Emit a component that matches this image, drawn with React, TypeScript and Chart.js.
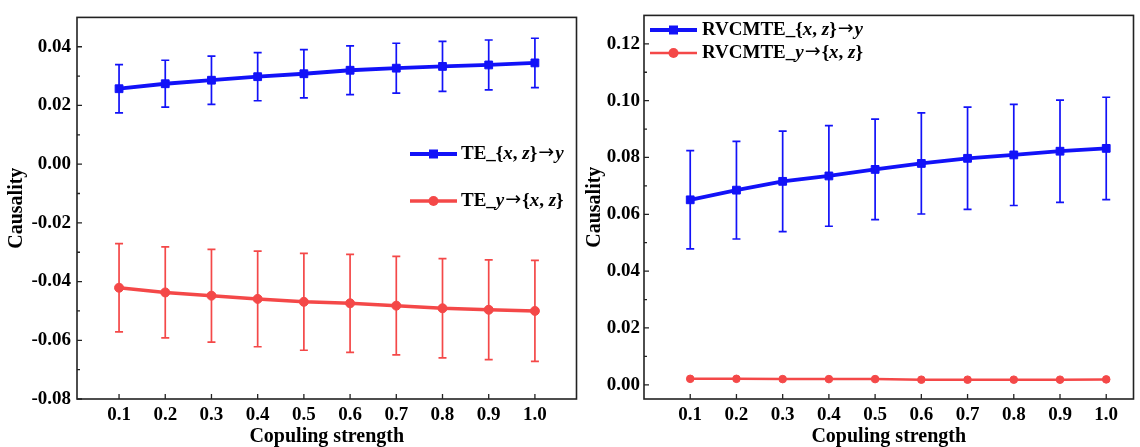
import React, { useEffect, useRef } from 'react';
import { Chart, registerables } from 'chart.js';

Chart.register(...registerables);

// ---------- data ----------
const coupling = [0.1, 0.2, 0.3, 0.4, 0.5, 0.6, 0.7, 0.8, 0.9, 1.0];
const xTickLabels = ['0.1', '0.2', '0.3', '0.4', '0.5', '0.6', '0.7', '0.8', '0.9', '1.0'];

// Left panel: TE
const teXZtoY = [0.0257, 0.0274, 0.0286, 0.0298, 0.0308, 0.032, 0.0327, 0.0333, 0.0338, 0.0345];
const teXZtoYErr = [0.0082, 0.008, 0.0082, 0.0082, 0.0082, 0.0083, 0.0085, 0.0085, 0.0085, 0.0084];
const teYtoXZ = [-0.0421, -0.0437, -0.0448, -0.0459, -0.0469, -0.0474, -0.0482, -0.0491, -0.0496, -0.05];
const teYtoXZErr = [0.015, 0.0155, 0.0158, 0.0163, 0.0165, 0.0167, 0.0168, 0.0169, 0.017, 0.0172];
const leftYTicks = [-0.08, -0.06, -0.04, -0.02, 0.0, 0.02, 0.04];

// Right panel: RVCMTE
const rvXZtoY = [0.0651, 0.0685, 0.0716, 0.0735, 0.0758, 0.0779, 0.0797, 0.0809, 0.0822, 0.0832];
const rvXZtoYErr = [0.0173, 0.0172, 0.0177, 0.0177, 0.0177, 0.0178, 0.018, 0.0178, 0.018, 0.018];
const rvYtoXZ = [0.0021, 0.0021, 0.002, 0.002, 0.002, 0.0018, 0.0018, 0.0018, 0.0018, 0.0019];
const rvYtoXZErr = [0, 0, 0, 0, 0, 0, 0, 0, 0, 0];
const rightYTicks = [0.0, 0.02, 0.04, 0.06, 0.08, 0.1, 0.12];

// legend labels; *...* marks italic parts
const leftLegendLabels = ['TE_{*x*, *z*}→*y*', 'TE_*y*→{*x*, *z*}'];
const rightLegendLabels = ['RVCMTE_{*x*, *z*}→*y*', 'RVCMTE_*y*→{*x*, *z*}'];

const xTitle = 'Copuling strength';
const yTitle = 'Causality';

// ---------- styles ----------
const BLUE = '#1212f8';
const RED = '#f44848';
const FAMILY = "'Liberation Serif', 'Times New Roman', serif";
const FONT = { family: FAMILY, size: 19, weight: 'bold' as const };
const TITLE_FONT = { family: FAMILY, size: 20, weight: 'bold' as const };

const errorBarPlugin = {
  id: 'errorBars',
  beforeDatasetsDraw(chart: any) {
    const ctx = chart.ctx;
    const xs = chart.scales.x;
    const ys = chart.scales.y;
    chart.data.datasets.forEach((ds: any) => {
      if (!ds.errors) return;
      ctx.save();
      ctx.strokeStyle = ds.errorColor || ds.borderColor;
      ctx.lineWidth = 1.7;
      ds.data.forEach((p: any, i: number) => {
        const e = ds.errors[i];
        if (!e) return;
        const px = xs.getPixelForValue(p.x);
        const top = ys.getPixelForValue(p.y + e);
        const bot = ys.getPixelForValue(p.y - e);
        ctx.beginPath();
        ctx.moveTo(px, top);
        ctx.lineTo(px, bot);
        ctx.moveTo(px - 4, top);
        ctx.lineTo(px + 4, top);
        ctx.moveTo(px - 4, bot);
        ctx.lineTo(px + 4, bot);
        ctx.stroke();
      });
      ctx.restore();
    });
  },
};

const framePlugin = {
  id: 'frameTicks',
  afterDatasetsDraw(chart: any) {
    const ctx = chart.ctx;
    const a = chart.chartArea;
    const xs = chart.scales.x;
    const ys = chart.scales.y;
    ctx.save();
    ctx.strokeStyle = '#222';
    ctx.lineWidth = 1.6;
    ctx.strokeRect(a.left, a.top, a.right - a.left, a.bottom - a.top);
    ctx.lineWidth = 1.3;
    ctx.beginPath();
    xs.ticks.forEach((t: any) => {
      const px = xs.getPixelForValue(t.value);
      ctx.moveTo(px, a.bottom);
      ctx.lineTo(px, a.bottom - 5);
    });
    const yt = ys.ticks.map((t: any) => t.value);
    const minors: number[] = [];
    for (let i = 0; i < yt.length - 1; i++) minors.push((yt[i] + yt[i + 1]) / 2);
    yt.forEach((v: number) => {
      const py = ys.getPixelForValue(v);
      ctx.moveTo(a.left, py);
      ctx.lineTo(a.left + 5, py);
    });
    minors.forEach((v: number) => {
      const py = ys.getPixelForValue(v);
      ctx.moveTo(a.left, py);
      ctx.lineTo(a.left + 3, py);
    });
    ctx.stroke();
    ctx.restore();
  },
};

const legendPlugin = {
  id: 'richLegend',
  afterDraw(chart: any) {
    const opts = chart.options.plugins.richLegend;
    if (!opts) return;
    const ctx = chart.ctx;
    chart.data.datasets.forEach((ds: any, i: number) => {
      const y = opts.rows[i];
      ctx.save();
      ctx.strokeStyle = ds.borderColor;
      ctx.lineWidth = ds.borderWidth;
      ctx.beginPath();
      ctx.moveTo(opts.lineX1, y);
      ctx.lineTo(opts.lineX2, y);
      ctx.stroke();
      const cx = (opts.lineX1 + opts.lineX2) / 2;
      ctx.fillStyle = ds.pointBackgroundColor;
      if (ds.pointStyle === 'rect') {
        ctx.fillRect(cx - 4.5, y - 4.5, 9, 9);
      } else {
        ctx.beginPath();
        ctx.arc(cx, y, 5, 0, Math.PI * 2);
        ctx.fill();
      }
      // rich text
      let x = opts.textX;
      ctx.fillStyle = '#000';
      ctx.textBaseline = 'middle';
      ctx.textAlign = 'left';
      const parts = String(opts.labels[i]).split('*');
      parts.forEach((part: string, k: number) => {
        const italic = k % 2 === 1;
        const pieces = part.split(/(→)/);
        pieces.forEach((pc: string) => {
          if (!pc) return;
          if (pc === '→') {
            ctx.font = "19px 'DejaVu Sans', sans-serif";
            ctx.fillText(pc, x + 1, y - 1);
            x += ctx.measureText(pc).width + 2;
          } else {
            ctx.font = (italic ? 'italic ' : '') + 'bold 19px ' + FAMILY;
            ctx.fillText(pc, x, y);
            x += ctx.measureText(pc).width;
          }
        });
      });
      ctx.restore();
    });
  },
};

function makeConfig(p: {
  s1: number[]; e1: number[]; s2: number[]; e2: number[];
  yTicks: number[]; yMin: number; yMax: number; xMin: number; xMax: number;
  yWidth: number; padRight: number; yTickPad: number; yTitlePad: number;
  labels: string[]; legend: any; redWidth: number; redRadius: number;
}) {
  return {
    type: 'line' as const,
    data: {
      datasets: [
        {
          label: p.labels[0],
          data: coupling.map((x, i) => ({ x, y: p.s1[i] })),
          errors: p.e1,
          errorColor: BLUE,
          borderColor: BLUE,
          backgroundColor: BLUE,
          pointBackgroundColor: BLUE,
          pointBorderColor: BLUE,
          borderWidth: 3.8,
          pointStyle: 'rect',
          pointRadius: 5.5,
          pointBorderWidth: 1,
          tension: 0,
        },
        {
          label: p.labels[1],
          data: coupling.map((x, i) => ({ x, y: p.s2[i] })),
          errors: p.e2,
          errorColor: RED,
          borderColor: RED,
          backgroundColor: RED,
          pointBackgroundColor: RED,
          pointBorderColor: RED,
          borderWidth: p.redWidth,
          pointStyle: 'circle',
          pointRadius: p.redRadius,
          pointBorderWidth: 1,
          tension: 0,
        },
      ],
    },
    options: {
      animation: false,
      responsive: false,
      maintainAspectRatio: false,
      layout: { padding: { top: 14, right: p.padRight, left: 0, bottom: 0 } },
      plugins: {
        legend: { display: false },
        tooltip: { enabled: false },
        richLegend: { ...p.legend, labels: p.labels },
      },
      scales: {
        x: {
          type: 'linear',
          min: p.xMin,
          max: p.xMax,
          afterBuildTicks: (s: any) => {
            s.ticks = coupling.map((v) => ({ value: v }));
          },
          afterFit: (s: any) => {
            s.height = 48;
          },
          ticks: {
            callback: (_v: any, i: number) => xTickLabels[i],
            font: FONT,
            color: '#000',
            padding: 5,
            autoSkip: false,
            maxRotation: 0,
          },
          grid: { display: false, drawTicks: false },
          border: { display: false },
          title: { display: true, text: xTitle, font: TITLE_FONT, color: '#000', padding: { top: 0, bottom: -2 } },
        },
        y: {
          type: 'linear',
          min: p.yMin,
          max: p.yMax,
          afterBuildTicks: (s: any) => {
            s.ticks = p.yTicks.map((v) => ({ value: v }));
          },
          afterFit: (s: any) => {
            s.width = p.yWidth;
          },
          ticks: {
            callback: (v: any) => Number(v).toFixed(2),
            font: FONT,
            color: '#000',
            padding: p.yTickPad,
          },
          grid: { display: false, drawTicks: false },
          border: { display: false },
          title: { display: true, text: yTitle, font: TITLE_FONT, color: '#000', padding: { top: p.yTitlePad, bottom: 0 } },
        },
      },
    },
    plugins: [errorBarPlugin, framePlugin, legendPlugin],
  };
}

function Panel(props: { cfg: any; left: number; width: number }) {
  const ref = useRef<HTMLCanvasElement | null>(null);
  useEffect(() => {
    if (!ref.current) return;
    const chart = new Chart(ref.current, props.cfg);
    return () => chart.destroy();
  }, []);
  return (
    <canvas
      ref={ref}
      width={props.width}
      height={447}
      style={{ position: 'absolute', left: props.left, top: 0, width: props.width, height: 447, display: 'block' }}
    />
  );
}

export default function App() {
  const leftCfg = makeConfig({
    s1: teXZtoY, e1: teXZtoYErr, s2: teYtoXZ, e2: teYtoXZErr,
    yTicks: leftYTicks, yMin: -0.08, yMax: 0.05, xMin: 0.009, xMax: 1.09,
    yWidth: 77, padRight: 4, yTickPad: 6, yTitlePad: 5,
    labels: leftLegendLabels,
    legend: { lineX1: 410, lineX2: 457, textX: 461, rows: [154, 201] },
    redWidth: 3.5, redRadius: 4.5,
  });
  const rightCfg = makeConfig({
    s1: rvXZtoY, e1: rvXZtoYErr, s2: rvYtoXZ, e2: rvYtoXZErr,
    yTicks: rightYTicks, yMin: -0.005, yMax: 0.13, xMin: 0.0, xMax: 1.059,
    yWidth: 61, padRight: 2, yTickPad: 4, yTitlePad: 0,
    labels: rightLegendLabels,
    legend: { lineX1: 67, lineX2: 114, textX: 119, rows: [30, 53] },
    redWidth: 2.5, redRadius: 3.8,
  });
  return (
    <div style={{ position: 'fixed', left: 0, top: 0, width: 1140, height: 447, background: '#fff', overflow: 'hidden' }}>
      <Panel cfg={leftCfg} left={0} width={583} />
      <Panel cfg={rightCfg} left={583} width={557} />
    </div>
  );
}
